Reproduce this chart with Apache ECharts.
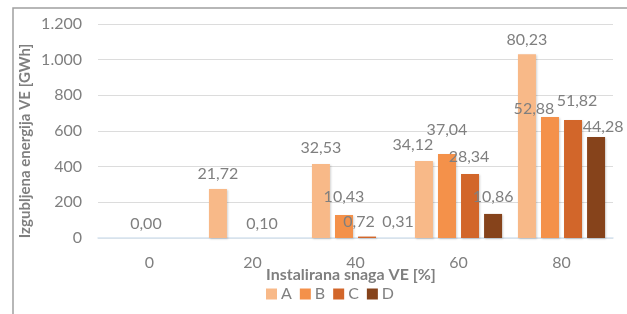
<!DOCTYPE html>
<html>
<head>
<meta charset="utf-8">
<script src="https://cdn.jsdelivr.net/npm/echarts@6/dist/echarts.min.js"></script>
<style>
  html, body { margin: 0; padding: 0; background: #fff; }
  #chart { width: 627px; height: 314px; }
</style>
</head>
<body>
<div id="chart"></div>
<script>
// Categories (installed RES share, %)
var categories = ['0', '20', '40', '60', '80'];
var seriesNames = ['A', 'B', 'C', 'D'];

// Bar heights (lost energy, GWh)
var valuesA = [0, 275, 415, 432, 1030];
var valuesB = [0, 0, 129, 471, 679];
var valuesC = [0, 0, 8, 359, 662];
var valuesD = [0, 0, 0, 135, 566];

// Data label texts (percent values shown on the chart)
var labelsA = ['0,00', '21,72', '32,53', '34,12', '80,23'];
var labelsB = ['', '0,10', '10,43', '37,04', '52,88'];
var labelsC = ['', '', '0,72', '28,34', '51,82'];
var labelsD = ['', '', '0,31', '10,86', '44,28'];

var xTitle = 'Instalirana snaga VE [%]';
var yTitle = 'Izgubljena energija VE [GWh]';

// label nudges so they sit like in the original
var offsetsA = [[31, 0], [0, -1], [0, -2], [-11, -2], [0, 0]];
var offsetsB = [[0, 0], [21, 0], [0, -4], [0, -10], [-16, 6]];
var offsetsC = [[0, 0], [0, 0], [-8, -1], [-1, -3], [4, -5]];
var offsetsD = [[0, 0], [0, 0], [8, -2], [0, -3], [7, 4]];

var colors = ['#F8B988', '#F4914A', '#D2662A', '#86431B'];
var grey = '#7f7f7f';
var font = 'Lato';

function makeSeries(idx, values, labels, offsets) {
    return {
        name: seriesNames[idx],
        type: 'bar',
        barWidth: 18,
        barGap: '28%',
        itemStyle: {
            color: colors[idx],
            shadowColor: 'rgba(0,0,0,0.18)',
            shadowBlur: 2,
            shadowOffsetX: 1,
            shadowOffsetY: 1
        },
        data: values.map(function (v, i) {
            return {
                value: v,
                label: {
                    show: labels[i] !== '',
                    position: 'top',
                    offset: offsets[i],
                    formatter: labels[i]
                }
            };
        }),
        label: {
            color: grey,
            fontFamily: font,
            fontSize: 16,
            distance: 6
        }
    };
}

var chart = echarts.init(document.getElementById('chart'));

var option = {
    animation: false,
    textStyle: { fontFamily: font },
    graphic: [{
        type: 'rect',
        shape: { x: 13, y: 8, width: 700, height: 400 },
        style: { fill: 'none', stroke: '#a0a0a0', lineWidth: 1.5 }
    }, {
        type: 'text',
        x: 25,
        y: 141,
        rotation: Math.PI / 2,
        style: {
            text: yTitle,
            fill: grey,
            font: 'bold 15px Lato',
            align: 'center',
            verticalAlign: 'middle'
        }
    }, {
        type: 'text',
        x: 351,
        y: 275,
        style: {
            text: xTitle,
            fill: grey,
            font: 'bold 16px Lato',
            align: 'center',
            verticalAlign: 'middle'
        }
    }],
    grid: { left: 98, right: 14, top: 24, bottom: 76 },
    legend: {
        data: seriesNames,
        left: 261,
        top: 281,
        itemWidth: 11,
        itemHeight: 11,
        itemGap: 8,
        icon: 'rect',
        textStyle: { color: grey, fontFamily: font, fontSize: 16, padding: [0, 0, 0, -1] }
    },
    xAxis: {
        type: 'category',
        data: categories,
        axisLine: { lineStyle: { color: '#D6E4F0', width: 1.5 } },
        axisTick: { show: false },
        axisLabel: { color: grey, fontSize: 16, margin: 17 }
    },
    yAxis: {
        type: 'value',
        min: 0,
        max: 1200,
        interval: 200,
        axisLabel: {
            color: grey,
            fontSize: 16,
            margin: 16,
            formatter: function (v) {
                return String(v).replace(/\B(?=(\d{3})+(?!\d))/g, '.');
            }
        },
        splitLine: { lineStyle: { color: '#dcdcdc', width: 1.2 } }
    },
    series: [
        makeSeries(0, valuesA, labelsA, offsetsA),
        makeSeries(1, valuesB, labelsB, offsetsB),
        makeSeries(2, valuesC, labelsC, offsetsC),
        makeSeries(3, valuesD, labelsD, offsetsD)
    ]
};

chart.setOption(option);
</script>
</body>
</html>
